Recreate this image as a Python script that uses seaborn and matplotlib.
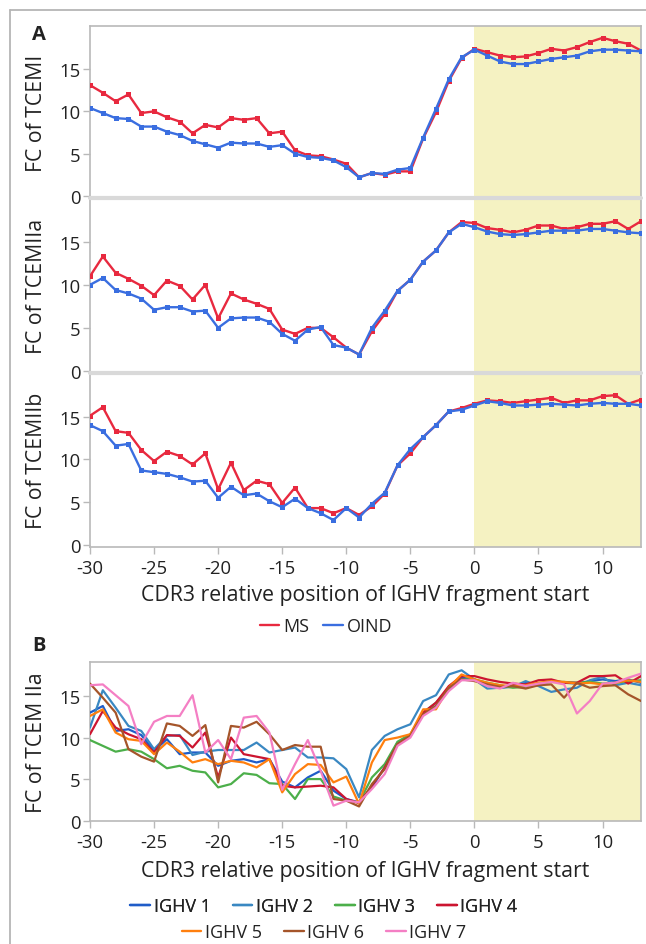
import numpy as np
import pandas as pd
import matplotlib
matplotlib.use("Agg")
import matplotlib.pyplot as plt
from matplotlib.lines import Line2D
import seaborn as sns

# CDR3 position relative to IGHV fragment start
positions = [-30, -29, -28, -27, -26, -25, -24, -23, -22, -21,
             -20, -19, -18, -17, -16, -15, -14, -13, -12, -11,
             -10, -9, -8, -7, -6, -5, -4, -3, -2, -1,
             0, 1, 2, 3, 4, 5, 6, 7, 8, 9, 10, 11, 12, 13]

# Panel A: fold change per group
tcemi_ms = [13.1, 12.2, 11.2, 12.0, 9.8, 10.0, 9.3, 8.8, 7.4, 8.4,
            8.1, 9.2, 9.0, 9.2, 7.4, 7.6, 5.4, 4.8, 4.7, 4.3,
            3.8, 2.2, 2.7, 2.5, 2.9, 2.9, 6.8, 9.9, 13.6, 16.3,
            17.4, 17.0, 16.6, 16.4, 16.5, 16.9, 17.4, 17.2, 17.6, 18.2, 18.7, 18.3, 18.0, 17.2]
tcemi_oind = [10.4, 9.8, 9.2, 9.1, 8.2, 8.2, 7.6, 7.2, 6.5, 6.1,
              5.7, 6.3, 6.2, 6.2, 5.8, 6.0, 5.0, 4.6, 4.5, 4.2,
              3.4, 2.2, 2.7, 2.6, 3.1, 3.3, 6.9, 10.3, 13.8, 16.4,
              17.3, 16.6, 15.9, 15.6, 15.6, 15.9, 16.2, 16.4, 16.6, 17.1, 17.3, 17.3, 17.2, 17.1]
tcemiia_ms = [11.0, 13.3, 11.4, 10.7, 9.9, 8.8, 10.5, 9.9, 8.3, 10.0,
              6.1, 9.0, 8.3, 7.8, 7.2, 4.8, 4.3, 5.0, 5.0, 3.9,
              2.7, 1.9, 4.6, 6.6, 9.3, 10.6, 12.7, 14.0, 16.1, 17.3,
              17.2, 16.6, 16.4, 16.1, 16.4, 16.9, 16.9, 16.5, 16.7, 17.1, 17.1, 17.4, 16.5, 17.4]
tcemiia_oind = [10.0, 10.8, 9.4, 9.0, 8.4, 7.1, 7.4, 7.4, 6.9, 7.0,
                5.0, 6.1, 6.2, 6.2, 5.7, 4.3, 3.5, 4.8, 5.1, 3.0,
                2.7, 1.9, 5.0, 7.0, 9.3, 10.6, 12.7, 14.0, 16.1, 17.1,
                16.7, 16.2, 15.9, 15.8, 15.9, 16.1, 16.3, 16.3, 16.3, 16.5, 16.5, 16.3, 16.1, 16.0]
tcemiib_ms = [15.1, 16.1, 13.3, 13.1, 11.1, 9.8, 10.9, 10.4, 9.4, 10.7,
              6.5, 9.6, 6.4, 7.5, 7.1, 4.9, 6.7, 4.3, 4.3, 3.7,
              4.3, 3.5, 4.5, 6.0, 9.3, 10.7, 12.6, 14.0, 15.6, 16.0,
              16.5, 16.9, 16.8, 16.6, 16.8, 17.0, 17.2, 16.6, 16.9, 16.9, 17.4, 17.5, 16.5, 17.0]
tcemiib_oind = [14.0, 13.3, 11.6, 11.8, 8.7, 8.5, 8.3, 7.9, 7.4, 7.5,
                5.5, 6.8, 5.8, 6.0, 5.1, 4.4, 5.4, 4.3, 3.7, 2.9,
                4.3, 3.2, 4.8, 6.1, 9.3, 11.2, 12.6, 14.0, 15.6, 15.8,
                16.3, 16.8, 16.6, 16.3, 16.3, 16.4, 16.5, 16.4, 16.3, 16.5, 16.6, 16.5, 16.5, 16.3]

# Panel B: TCEM IIa fold change per IGHV family
ighv1 = [13.0, 13.8, 10.8, 11.0, 10.3, 8.4, 9.8, 8.0, 8.2, 8.2,
         6.6, 7.2, 7.4, 7.0, 7.4, 4.7, 4.0, 5.2, 6.0, 3.6,
         2.6, 2.2, 4.0, 6.4, 9.4, 10.2, 12.8, 13.8, 15.8, 17.2,
         17.0, 16.3, 16.0, 16.2, 16.6, 16.4, 16.8, 16.6, 16.5, 16.8, 17.0, 16.8, 17.0, 16.6]
ighv2 = [11.2, 15.7, 13.6, 11.4, 10.8, 8.6, 10.2, 10.3, 7.9, 8.3,
         8.5, 8.5, 8.5, 9.4, 8.2, 8.5, 8.8, 7.6, 7.6, 7.5,
         6.2, 2.8, 8.5, 10.2, 11.0, 11.6, 14.4, 15.1, 17.6, 18.1,
         17.0, 15.9, 16.0, 16.1, 16.8, 16.2, 15.5, 15.8, 16.0, 16.9, 17.3, 16.3, 16.6, 16.3]
ighv3 = [9.7, 9.0, 8.3, 8.6, 8.3, 7.4, 6.3, 6.6, 6.0, 5.8,
         4.0, 4.4, 5.7, 5.5, 4.5, 4.4, 2.6, 5.0, 5.0, 2.9,
         2.4, 2.2, 5.2, 6.8, 9.5, 10.4, 13.0, 14.2, 16.0, 17.0,
         17.0, 16.6, 16.3, 16.0, 16.1, 16.4, 16.7, 16.7, 16.6, 16.7, 16.5, 16.6, 16.8, 16.9]
ighv4 = [10.4, 13.2, 11.2, 10.4, 9.8, 8.2, 10.3, 10.2, 8.8, 10.6,
         5.2, 10.0, 8.0, 7.7, 7.4, 4.2, 4.0, 4.1, 4.2, 4.0,
         2.6, 2.1, 4.2, 6.4, 9.2, 10.2, 13.0, 14.2, 16.2, 17.4,
         17.4, 17.0, 16.7, 16.5, 16.4, 16.9, 17.0, 16.6, 16.6, 17.4, 17.4, 17.5, 16.5, 17.4]
ighv5 = [12.6, 13.4, 10.6, 9.8, 9.6, 8.0, 9.4, 8.3, 7.0, 7.4,
         6.8, 7.2, 7.0, 6.4, 7.4, 3.4, 5.6, 6.8, 6.7, 4.6,
         5.3, 2.0, 7.0, 9.7, 10.0, 10.4, 13.4, 13.4, 16.0, 17.6,
         17.0, 16.6, 16.3, 16.2, 16.3, 16.6, 16.8, 16.7, 16.5, 16.6, 16.4, 16.6, 16.9, 16.7]
ighv6 = [16.5, 14.8, 13.0, 8.6, 7.7, 7.1, 11.7, 11.4, 10.2, 11.5,
         4.6, 11.4, 11.2, 11.9, 10.4, 8.5, 9.1, 8.9, 8.9, 2.6,
         2.4, 1.7, 4.4, 6.2, 9.2, 10.2, 12.8, 13.8, 16.0, 17.0,
         16.8, 16.4, 16.1, 16.2, 15.9, 16.3, 16.4, 14.8, 16.6, 16.0, 16.2, 16.3, 15.2, 14.4]
ighv7 = [16.3, 16.4, 15.1, 13.8, 9.2, 11.9, 12.6, 12.6, 15.1, 8.2,
         9.7, 7.4, 12.4, 12.6, 10.6, 3.7, 6.8, 9.7, 6.0, 1.8,
         2.4, 2.2, 3.8, 5.6, 9.0, 10.0, 12.6, 13.6, 15.6, 16.9,
         16.9, 16.2, 15.9, 16.6, 16.2, 16.5, 16.7, 16.4, 12.9, 14.4, 16.5, 16.6, 17.2, 17.7]

groups = ["MS", "OIND"]
group_colors = {"MS": "#e8293f", "OIND": "#3a6ee0"}
families = ["IGHV 1", "IGHV 2", "IGHV 3", "IGHV 4", "IGHV 5", "IGHV 6", "IGHV 7"]
family_colors = {"IGHV 1": "#1f5cc8", "IGHV 2": "#3a88c2", "IGHV 3": "#4caf4a",
                 "IGHV 4": "#cc1530", "IGHV 5": "#ff7f0e", "IGHV 6": "#a5552a",
                 "IGHV 7": "#f47fc4"}

panel_a = [("FC of TCEMI", tcemi_ms, tcemi_oind),
           ("FC of TCEMIIa", tcemiia_ms, tcemiia_oind),
           ("FC of TCEMIIb", tcemiib_ms, tcemiib_oind)]
x_title = "CDR3 relative position of IGHV fragment start"

sns.set_theme(style="white")
plt.rcParams["font.family"] = ["Open Sans", "DejaVu Sans"]
plt.rcParams["axes.unicode_minus"] = False
plt.rcParams["text.color"] = "#222222"
plt.rcParams["axes.labelcolor"] = "#222222"
plt.rcParams["xtick.color"] = "#222222"
plt.rcParams["ytick.color"] = "#222222"

W, H = 646, 945
fig = plt.figure(figsize=(W / 100, H / 100), dpi=100)


def box(left, top, right, bottom):
    return [left / W, 1 - bottom / H, (right - left) / W, (bottom - top) / H]


def fy(y):
    return 1 - y / H


spine_col = "#b9b9b9"
tick_fs = 13.3
label_fs = 15.3
legend_fs = 13
shade = "#f5f2c2"


def style_axis(ax, show_x):
    ax.set_xlim(-30, 13)
    ax.axvspan(0, 13, color=shade, zorder=0, lw=0)
    for s in ax.spines.values():
        s.set_color(spine_col)
        s.set_linewidth(1.2)
    ax.set_yticks([0, 5, 10, 15])
    ax.tick_params(axis="y", left=True, length=5, width=1, color=spine_col,
                   labelsize=tick_fs, pad=2)
    ax.set_xticks([-30, -25, -20, -15, -10, -5, 0, 5, 10])
    if show_x:
        ax.tick_params(axis="x", bottom=True, length=5, width=1, color=spine_col,
                       labelsize=tick_fs, pad=4)
    else:
        ax.tick_params(axis="x", bottom=False, labelbottom=False)
    ax.grid(False)
    ax.set_xlabel("")


# Panel A: three stacked frames sharing the x axis
frames = [(27, 199), (199, 374), (374, 548)]
axes_a = []
for i, ((ylab, ms, oind), (t, b)) in enumerate(zip(panel_a, frames)):
    ax = fig.add_axes(box(90, t, 641, b))
    df = pd.DataFrame({"pos": positions * 2,
                       "fc": ms + oind,
                       "group": ["MS"] * len(ms) + ["OIND"] * len(oind)})
    sns.lineplot(data=df, x="pos", y="fc", hue="group", hue_order=groups,
                 palette=group_colors, ax=ax, lw=1.7, marker="s", markersize=3.6,
                 markeredgewidth=0, legend=False, zorder=3)
    ax.set_ylim(-0.25, 20.1)
    style_axis(ax, show_x=(i == 2))
    ax.set_ylabel(ylab, fontsize=label_fs)
    ax.yaxis.set_label_coords(-0.078, 0.5)
    axes_a.append(ax)

# grey separators between the stacked frames
for y in (199, 374):
    fig.add_artist(Line2D([90 / W, 641 / W], [fy(y), fy(y)],
                          color="#d9d9d9", lw=3, transform=fig.transFigure, zorder=5))

fig.text(365 / W, fy(596), x_title, fontsize=label_fs, ha="center", va="center")

handles_a = [Line2D([], [], color=group_colors[g], lw=1.7) for g in groups]
fig.legend(handles_a, groups, loc="center", bbox_to_anchor=(326 / W, fy(627)),
           ncol=2, frameon=False, fontsize=legend_fs, handlelength=1.1,
           handletextpad=0.2, columnspacing=0.8, borderpad=0)

# Panel B
axb = fig.add_axes(box(90, 663, 641, 822))
series = [ighv1, ighv2, ighv3, ighv4, ighv5, ighv6, ighv7]
dfb = pd.DataFrame({"pos": positions * len(families),
                    "fc": sum(series, []),
                    "family": [f for f in families for _ in positions]})
sns.lineplot(data=dfb, x="pos", y="fc", hue="family", hue_order=families,
             palette=family_colors, ax=axb, lw=1.6, legend=False, zorder=3)
axb.set_ylim(-0.05, 19.1)
style_axis(axb, show_x=True)
axb.set_ylabel("FC of TCEM IIa", fontsize=label_fs)
axb.yaxis.set_label_coords(-0.078, 0.5)

fig.text(365 / W, fy(872), x_title, fontsize=label_fs, ha="center", va="center")

hb1 = [Line2D([], [], color=family_colors[f], lw=1.7) for f in families[:4]]
hb2 = [Line2D([], [], color=family_colors[f], lw=1.7) for f in families[4:]]
leg1 = fig.legend(hb1, families[:4], loc="center", bbox_to_anchor=(324 / W, fy(907)),
                  ncol=4, frameon=False, fontsize=legend_fs, handlelength=1.1,
                  handletextpad=0.2, columnspacing=1.2, borderpad=0)
fig.add_artist(leg1)
fig.legend(hb2, families[4:], loc="center", bbox_to_anchor=(324 / W, fy(933)),
           ncol=3, frameon=False, fontsize=legend_fs, handlelength=1.1,
           handletextpad=0.2, columnspacing=1.2, borderpad=0)

# panel letters
fig.text(32 / W, fy(35), "A", fontsize=14.5, fontweight="bold", va="center", ha="left")
fig.text(32 / W, fy(646), "B", fontsize=14.5, fontweight="bold", va="center", ha="left")

# outer frame
fig.add_artist(Line2D([10 / W, 1.0], [fy(11), fy(11)], color="#b5b5b5",
                      lw=1.3, transform=fig.transFigure))
fig.add_artist(Line2D([10 / W, 10 / W], [fy(11), 0.0], color="#b5b5b5",
                      lw=1.3, transform=fig.transFigure))

fig.savefig("out.png", dpi=100, facecolor="white")
